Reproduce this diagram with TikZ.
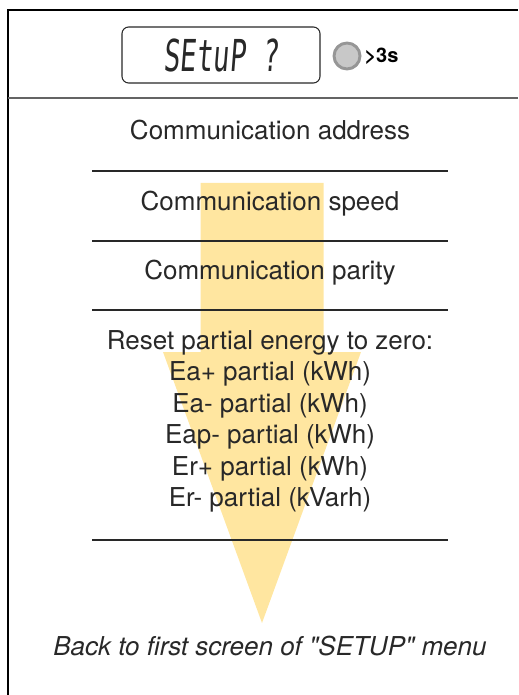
\documentclass[tikz,border=0pt]{standalone}
\usepackage{fontspec}
\setmainfont[Ligatures=TeXOff]{TeX Gyre Heros}
\newfontfamily\lcdfont[FakeStretch=0.62,FakeSlant=0.08]{DejaVu Sans Mono}
\usetikzlibrary{positioning}

\definecolor{arrowyellow}{RGB}{255,230,160}
\definecolor{inkgray}{RGB}{40,40,40}
\definecolor{keygray}{RGB}{200,200,200}
\definecolor{keyrim}{RGB}{150,150,150}

\tikzset{every picture/.style={line width=0.75pt},
	menu text/.style={inner sep=0.75pt, text=inkgray, align=center, font=\fontsize{19.5}{23.6}\selectfont},
	sep line/.style={draw=inkgray, line width=0.9pt}}

\begin{document}
\begin{tikzpicture}[x=0.75pt,y=0.75pt,yscale=-1,xscale=1]
	\path[use as bounding box] (0,0) rectangle (518,695);

	%Frame
	\draw [line width=1.1pt]  (8,695) -- (8,10) -- (518,10) ;
	\draw [draw={rgb, 255:red, 100; green, 100; blue, 100 }, line width=1.6pt]  (8,98) -- (518,98) ;

	%Shape: Arrow (behind the text)
	\fill [arrowyellow]  (200.5,183) -- (323.5,183) -- (323.5,352) -- (361,352) -- (262,623) -- (163,352) -- (200.5,352) -- cycle ;

	% LCD display
	\node [draw=inkgray, rounded corners=5pt, line width=0.8pt, minimum width=148.5pt, minimum height=42pt, inner sep=0pt]  (lcd) at (221,55)  {\lcdfont\fontsize{33}{33}\selectfont\color{inkgray}SEtuP ?};
	% Key and hold time
	\node [circle, draw=keyrim, fill=keygray, line width=2.2pt, minimum size=19.5pt, inner sep=0pt]  (key) at (347,56)  {};
	\node [anchor=base west, inner sep=0pt, font=\fontsize{15}{15}\selectfont\bfseries]  (hold) at (364,63)  {>3s};

	% Text Node
	\node [menu text, anchor=base]  (addr) at (270,140)  {Communication address};
	% Text Node
	\node [menu text, anchor=base]  (speed) at (270,210.5)  {Communication speed};
	% Text Node
	\node [menu text, anchor=base]  (parity) at (270,279)  {Communication parity};
	% Text Node
	\node [menu text]  (reset) at (270,421.5)  {Reset partial energy to zero:\\ Ea+ partial (kWh)\\ Ea- partial (kWh)\\ Eap- partial (kWh)\\ Er+ partial (kWh)\\ Er- partial (kVarh)};
	% Text Node
	\node [menu text, anchor=base, font=\fontsize{19.5}{23.6}\selectfont\itshape]  (back) at (270,655)  {Back to first screen of "SETUP" menu};

	%Separators
	\foreach \y in {171,241,310,540}
		\draw [sep line]  (92,\y) -- (448,\y) ;
\end{tikzpicture}
\end{document}
